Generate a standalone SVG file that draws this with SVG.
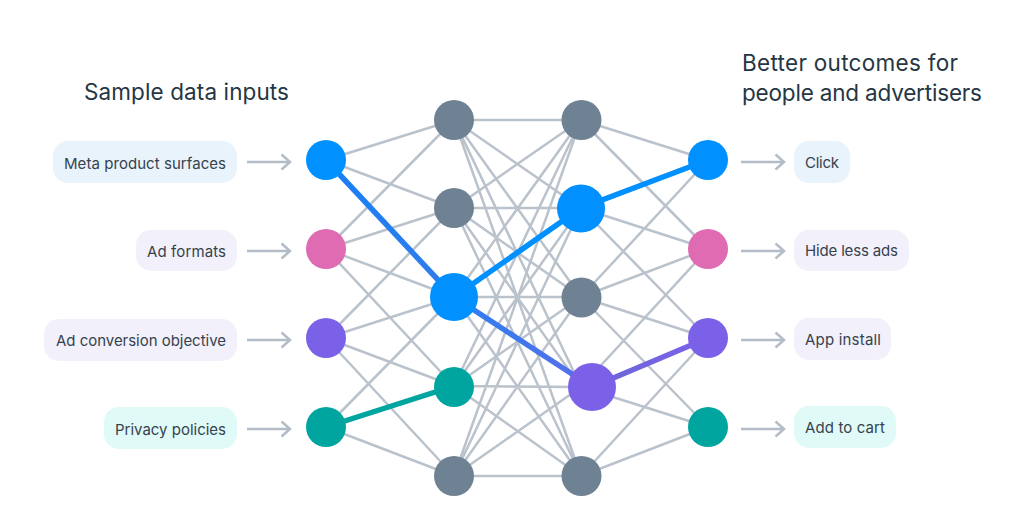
<svg xmlns="http://www.w3.org/2000/svg" width="1024" height="529" viewBox="0 0 1024 529">
<style>
text{font-family:Inter,"Noto Sans","Liberation Sans",sans-serif;fill:#2b3a46}
.title{font-size:22.500px;font-weight:400;fill:#253644}
.lbl{font-size:15px;fill:#36424e}
.e{stroke:#bac2cc;stroke-width:2.500;fill:none}
.a{stroke:#b4bdc7;stroke-width:2.500;fill:none;marker-end:url(#arr)}
.t{stroke-width:5.500;fill:none}
.g{fill:#6e8294}.b{fill:#0090ff}.p{fill:#df6bb3}.v{fill:#7b61e8}.c{fill:#00a5a0}
.pb{fill:#e9f3fb}.pv{fill:#f2f0fa}.pc{fill:#e0faf7}
</style>
<defs>
<marker id="arr" markerUnits="userSpaceOnUse" markerWidth="14" markerHeight="20" refX="11" refY="9" orient="auto"><path d="M2.500 1.500 L11 9 L2.500 16.500" fill="none" stroke="#b4bdc7" stroke-width="2.500"/></marker>
<linearGradient id="g1" gradientUnits="userSpaceOnUse" x1="326" y1="160" x2="454" y2="297"><stop offset="0" stop-color="#1680f5"/><stop offset="1" stop-color="#337bea"/></linearGradient>
<linearGradient id="g2" gradientUnits="userSpaceOnUse" x1="454" y1="297" x2="592" y2="387"><stop offset="0" stop-color="#2b7ff0"/><stop offset="1" stop-color="#5a6ee8"/></linearGradient>
<linearGradient id="g3" gradientUnits="userSpaceOnUse" x1="592" y1="387" x2="708" y2="338"><stop offset="0" stop-color="#6a68d8"/><stop offset="1" stop-color="#7b61e8"/></linearGradient>
</defs>
<rect width="1024" height="529" fill="#fff"/>
<g id="connectors">
<g id="input-edges">
<path class="e" d="M326 160L454 120M326 160L454 208M326 249L454 120M326 249L454 208M326 249L454 297M326 249L454 386M326 338L454 208M326 338L454 297M326 338L454 386M326 338L454 476M326 427L454 297M326 427L454 476"/>
</g>
<g id="hidden-edges">
<path class="e" d="M454 120L581 120M454 120L581 208M454 120L581 297M454 120L581 387M454 120L581 476M454 208L581 120M454 208L581 208M454 208L581 297M454 208L581 387M454 208L581 476M454 297L581 120M454 297L581 208M454 297L581 297M454 297L581 476M454 386L581 120M454 386L581 208M454 386L581 297M454 386L581 387M454 386L581 476M454 476L581 120M454 476L581 208M454 476L581 297M454 476L581 387M454 476L581 476"/>
</g>
<g id="output-edges">
<path class="e" d="M581 120L708 160M581 120L708 249M581 208L708 249M581 208L708 338M581 297L708 160M581 297L708 249M581 297L708 338M581 297L708 427M581 387L708 249M581 387L708 427M581 476L708 338M581 476L708 427"/>
</g>
<g id="highlight-edges">
<path class="t" stroke="url(#g1)" d="M326 160L454 297"/>
<path class="t" stroke="#0090ff" d="M454 297L581 208L708 160"/>
<path class="t" stroke="url(#g2)" d="M454 297L592 387"/>
<path class="t" stroke="url(#g3)" d="M592 387L708 338"/>
<path class="t" stroke="#00a5a0" d="M326 427L454 386"/>
</g>
<g id="arrows">
<path class="a" d="M247 162H290"/><path class="a" d="M247 251H290"/><path class="a" d="M247 340H290"/><path class="a" d="M247 429H290"/>
<path class="a" d="M741 162H784"/><path class="a" d="M741 251H784"/><path class="a" d="M741 340H784"/><path class="a" d="M741 429H784"/>
</g>
</g>
<text id="title-left" class="title" x="84" y="100" textLength="205">Sample data inputs</text>
<text id="title-right" class="title"><tspan x="742" y="71" textLength="216">Better outcomes for</tspan><tspan x="742" y="101" textLength="240">people and advertisers</tspan></text>
<g id="label-meta"><rect class="pb" x="53" y="141" width="184" height="42" rx="15"/><text class="lbl" x="64" y="168.500" textLength="162">Meta product surfaces</text></g>
<g id="label-formats"><rect class="pv" x="136" y="230" width="101" height="41" rx="15"/><text class="lbl" x="147" y="257" textLength="79">Ad formats</text></g>
<g id="label-conversion"><rect class="pv" x="44" y="319" width="193" height="42" rx="15"/><text class="lbl" x="56" y="346" textLength="170">Ad conversion objective</text></g>
<g id="label-privacy"><rect class="pc" x="104" y="407" width="133" height="42" rx="15"/><text class="lbl" x="115" y="434.500" textLength="111">Privacy policies</text></g>
<g id="label-click"><rect class="pb" x="794" y="141" width="56" height="42" rx="15"/><text class="lbl" x="805" y="168" textLength="34">Click</text></g>
<g id="label-hide"><rect class="pv" x="794" y="230" width="115" height="41" rx="15"/><text class="lbl" x="805" y="256" textLength="93">Hide less ads</text></g>
<g id="label-app"><rect class="pv" x="794" y="318" width="97" height="42" rx="15"/><text class="lbl" x="805" y="345" textLength="76">App install</text></g>
<g id="label-cart"><rect class="pc" x="794" y="406" width="102" height="42" rx="15"/><text class="lbl" x="805" y="433" textLength="80">Add to cart</text></g>
<g id="input-1"><circle class="b" cx="326" cy="160" r="20"/></g>
<g id="input-2"><circle class="p" cx="326" cy="249" r="20"/></g>
<g id="input-3"><circle class="v" cx="326" cy="338" r="20"/></g>
<g id="input-4"><circle class="c" cx="326" cy="427" r="20"/></g>
<g id="hidden1-1"><circle class="g" cx="454" cy="120" r="20"/></g>
<g id="hidden1-2"><circle class="g" cx="454" cy="208" r="20"/></g>
<g id="hidden1-3"><circle class="b" cx="454" cy="297" r="24"/></g>
<g id="hidden1-4"><circle class="c" cx="454" cy="387" r="20"/></g>
<g id="hidden1-5"><circle class="g" cx="454" cy="476" r="20"/></g>
<g id="hidden2-1"><circle class="g" cx="581.500" cy="120" r="20"/></g>
<g id="hidden2-2"><circle class="b" cx="581" cy="208.500" r="24"/></g>
<g id="hidden2-3"><circle class="g" cx="581.500" cy="297.500" r="20"/></g>
<g id="hidden2-4"><circle class="v" cx="592" cy="387" r="24"/></g>
<g id="hidden2-5"><circle class="g" cx="581.500" cy="476" r="20"/></g>
<g id="output-1"><circle class="b" cx="708" cy="160" r="20"/></g>
<g id="output-2"><circle class="p" cx="708" cy="249" r="20"/></g>
<g id="output-3"><circle class="v" cx="708" cy="338" r="20"/></g>
<g id="output-4"><circle class="c" cx="708" cy="427" r="20"/></g>
</svg>
